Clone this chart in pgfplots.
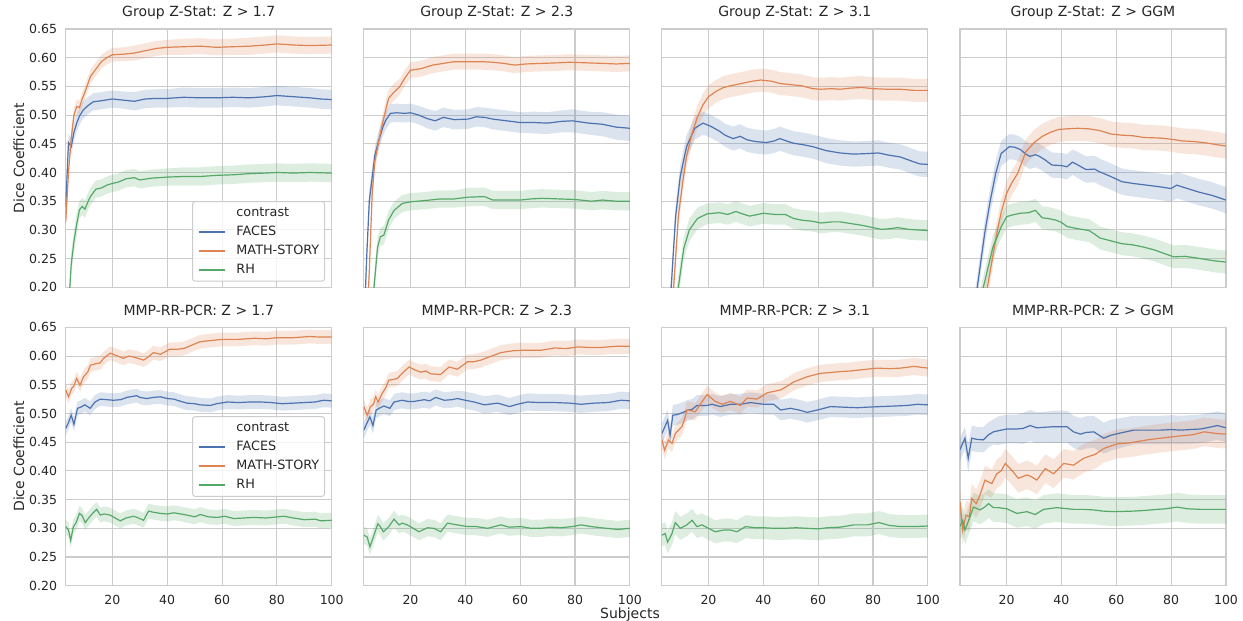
\documentclass[border=0pt]{standalone}
\usepackage{fontspec}
\setmainfont{DejaVu Sans}
\usepackage{pgfplots}
\usepackage{pgfplotstable}
\pgfplotsset{compat=1.18}
\usepgfplotslibrary{fillbetween}

\definecolor{cF}{HTML}{4C72B0}
\definecolor{cM}{HTML}{DD8452}
\definecolor{cR}{HTML}{55A868}
\definecolor{gridc}{HTML}{CCCCCC}
\definecolor{txt}{HTML}{262626}

% columns: subjects, mean dice, half width of the band
\pgfplotstableread{
x y w
3 0.34 0.02
4 0.452 0.015
5 0.445 0.015
6 0.47 0.015
7 0.486 0.015
8 0.498 0.015
9.4 0.509 0.015
11 0.516 0.015
13 0.523 0.015
16 0.525 0.015
20 0.528 0.015
24 0.526 0.015
28 0.524 0.016
32 0.528 0.016
36 0.529 0.016
40 0.529 0.016
46 0.531 0.017
52 0.530 0.017
58 0.530 0.017
64 0.531 0.017
70 0.530 0.017
76 0.532 0.017
80 0.534 0.017
86 0.532 0.017
92 0.530 0.017
96 0.528 0.017
100 0.527 0.017
}\Af
\pgfplotstableread{
x y w
3 0.314 0.01
4 0.40 0.012
5 0.46 0.012
6 0.50 0.012
7 0.515 0.012
8 0.513 0.012
9 0.528 0.012
10 0.540 0.012
12 0.567 0.012
14 0.580 0.012
16 0.593 0.012
18 0.600 0.012
20 0.605 0.012
24 0.606 0.012
28 0.608 0.013
32 0.612 0.013
36 0.616 0.013
40 0.618 0.013
46 0.619 0.014
52 0.620 0.014
58 0.618 0.014
64 0.619 0.014
70 0.620 0.015
76 0.622 0.015
80 0.624 0.015
86 0.622 0.015
92 0.621 0.015
100 0.622 0.015
}\Am
\pgfplotstableread{
x y w
3 0.10 0.02
4 0.16 0.02
5 0.24 0.02
6 0.28 0.02
7 0.31 0.02
8 0.335 0.015
9 0.341 0.015
10 0.336 0.015
11 0.348 0.015
12 0.358 0.015
14 0.371 0.015
16 0.373 0.015
18 0.378 0.015
20 0.381 0.015
22 0.383 0.015
25 0.389 0.015
28 0.391 0.015
30 0.387 0.015
34 0.390 0.015
40 0.392 0.015
46 0.393 0.016
52 0.393 0.016
58 0.395 0.016
64 0.396 0.016
70 0.398 0.016
76 0.399 0.016
80 0.400 0.016
86 0.399 0.016
92 0.400 0.016
100 0.399 0.016
}\Ar

\pgfplotstableread{
x y w
3 0.12 0.02
4 0.25 0.02
5 0.352 0.02
6 0.39 0.018
7 0.43 0.016
8.5 0.457 0.016
10 0.480 0.016
11 0.491 0.016
12.7 0.503 0.016
15 0.504 0.016
18 0.503 0.016
20 0.504 0.016
23 0.500 0.016
26 0.494 0.017
29 0.490 0.017
32 0.496 0.017
36 0.492 0.017
41 0.493 0.017
44 0.497 0.017
47 0.496 0.017
50 0.493 0.018
55 0.490 0.018
60 0.487 0.018
65 0.487 0.019
70 0.486 0.019
75 0.489 0.019
79 0.490 0.020
85 0.486 0.020
90 0.484 0.021
95 0.479 0.022
100 0.477 0.022
}\Bf
\pgfplotstableread{
x y w
3 0.05 0.015
4 0.13 0.015
5 0.23 0.015
6 0.36 0.015
7 0.42 0.015
9 0.468 0.015
10.5 0.50 0.015
12 0.529 0.015
14 0.540 0.015
16 0.549 0.014
18 0.565 0.014
20 0.578 0.014
24 0.581 0.014
28 0.587 0.014
32 0.590 0.014
36 0.593 0.014
40 0.593 0.014
46 0.593 0.014
50 0.592 0.014
54 0.590 0.014
58 0.587 0.014
62 0.589 0.014
68 0.590 0.014
74 0.591 0.014
78 0.592 0.014
84 0.591 0.014
90 0.590 0.014
95 0.589 0.014
100 0.590 0.014
}\Bm
\pgfplotstableread{
x y w
3 0.05 0.02
5 0.12 0.02
6.7 0.20 0.02
8 0.27 0.018
9 0.288 0.016
10.3 0.291 0.016
12 0.317 0.016
14 0.334 0.015
17 0.346 0.015
20 0.349 0.015
25 0.351 0.015
31 0.354 0.015
36 0.354 0.015
41 0.357 0.016
47 0.358 0.016
50 0.352 0.016
55 0.352 0.016
60 0.352 0.016
64 0.354 0.016
68 0.355 0.016
74 0.354 0.016
80 0.353 0.016
86 0.350 0.016
90 0.352 0.016
95 0.350 0.016
100 0.350 0.016
}\Br

\pgfplotstableread{
x y w
3 0.05 0.02
5 0.12 0.02
6.4 0.20 0.02
8 0.323 0.02
9.7 0.393 0.02
12 0.445 0.02
15 0.477 0.02
18 0.486 0.02
21 0.480 0.02
24 0.472 0.02
26 0.465 0.02
29 0.459 0.021
31.6 0.463 0.021
34 0.457 0.021
37 0.454 0.021
41 0.452 0.021
44 0.455 0.021
46 0.459 0.021
49 0.454 0.021
51 0.451 0.021
55 0.448 0.021
58 0.445 0.021
63 0.438 0.022
68 0.434 0.022
73 0.432 0.022
78 0.433 0.022
82 0.434 0.022
86 0.430 0.022
90 0.427 0.022
94 0.420 0.022
97 0.415 0.022
100 0.414 0.022
}\Cf
\pgfplotstableread{
x y w
3 0.03 0.02
5 0.10 0.02
7.3 0.20 0.02
9 0.323 0.02
10.5 0.38 0.02
12 0.428 0.02
14 0.468 0.02
16 0.497 0.02
18 0.518 0.02
20 0.532 0.02
23 0.542 0.02
25.5 0.548 0.02
28 0.551 0.02
32 0.555 0.02
36 0.559 0.02
39 0.561 0.02
43 0.559 0.02
46 0.555 0.02
50 0.553 0.02
54 0.551 0.02
58 0.546 0.02
61 0.545 0.02
65 0.546 0.02
68 0.545 0.02
72 0.547 0.02
76 0.548 0.02
80 0.546 0.02
85 0.545 0.02
90 0.545 0.02
95 0.543 0.02
100 0.543 0.02
}\Cm
\pgfplotstableread{
x y w
3 0.03 0.02
6 0.10 0.02
9 0.20 0.02
11 0.268 0.02
13 0.300 0.02
16 0.320 0.019
19.5 0.328 0.018
24 0.330 0.018
27 0.327 0.018
30 0.332 0.018
33 0.327 0.018
35 0.324 0.018
38 0.327 0.018
40 0.329 0.018
44 0.327 0.018
48 0.327 0.018
51 0.320 0.018
54 0.317 0.018
58 0.315 0.018
61 0.312 0.018
65 0.314 0.018
68 0.314 0.018
72 0.311 0.018
76 0.308 0.018
80 0.304 0.018
83 0.301 0.018
86 0.302 0.018
89 0.304 0.018
93 0.301 0.018
96 0.300 0.018
100 0.299 0.018
}\Cr

\pgfplotstableread{
x y w
3 0.0 0.02
6 0.10 0.02
9.3 0.20 0.02
12 0.294 0.022
14 0.35 0.022
16 0.398 0.022
18 0.433 0.022
21 0.445 0.022
23 0.444 0.022
25 0.440 0.022
27 0.432 0.022
28.5 0.428 0.022
30.5 0.431 0.022
32 0.428 0.022
34 0.422 0.022
36.5 0.413 0.022
40 0.412 0.022
42 0.410 0.022
44 0.418 0.022
46 0.413 0.023
49 0.405 0.023
52 0.406 0.023
54 0.401 0.023
58 0.393 0.023
62 0.384 0.023
66 0.381 0.023
71 0.378 0.023
76 0.375 0.023
80 0.372 0.023
82 0.378 0.023
86 0.372 0.023
90 0.366 0.023
95 0.360 0.023
100 0.352 0.023
}\Df
\pgfplotstableread{
x y w
3 0.0 0.02
8 0.10 0.02
13 0.20 0.02
16.4 0.294 0.022
18 0.33 0.022
20 0.364 0.022
22 0.383 0.022
24 0.398 0.022
27 0.436 0.022
30 0.452 0.022
33 0.463 0.022
36 0.470 0.022
39 0.475 0.022
42 0.476 0.022
46 0.477 0.022
50 0.476 0.022
54 0.473 0.022
58 0.467 0.022
62 0.465 0.022
66 0.464 0.022
70 0.461 0.022
76 0.460 0.022
80 0.458 0.022
84 0.455 0.022
88 0.454 0.022
92 0.452 0.022
96 0.449 0.022
100 0.446 0.022
}\Dm
\pgfplotstableread{
x y w
3 0.0 0.02
8 0.12 0.02
11.5 0.20 0.02
15 0.270 0.02
18 0.305 0.02
20 0.323 0.02
22 0.326 0.02
25 0.329 0.02
28 0.330 0.02
30.5 0.334 0.02
33 0.321 0.02
35 0.320 0.02
38 0.317 0.02
40 0.313 0.02
42 0.306 0.02
46 0.302 0.02
50 0.299 0.02
52 0.293 0.02
54 0.286 0.02
58 0.281 0.02
62 0.276 0.02
66 0.274 0.02
70 0.270 0.02
74 0.265 0.02
78 0.258 0.02
81 0.253 0.02
85 0.254 0.02
88 0.252 0.02
92 0.249 0.02
96 0.246 0.02
100 0.244 0.02
}\Dr

\pgfplotstableread{
x y w
3 0.474 0.012
4 0.484 0.012
5 0.497 0.012
6 0.481 0.012
7.3 0.509 0.012
8.5 0.511 0.012
10 0.515 0.012
11.9 0.509 0.012
13.7 0.520 0.012
15.6 0.525 0.012
18 0.524 0.012
20.4 0.523 0.012
23 0.524 0.012
25.3 0.528 0.012
28.9 0.531 0.012
30 0.528 0.012
32.6 0.526 0.012
35 0.528 0.012
37.5 0.529 0.012
40 0.526 0.012
42.4 0.525 0.012
45 0.521 0.012
47.2 0.518 0.012
50 0.517 0.012
52 0.515 0.012
55.8 0.514 0.012
58 0.517 0.012
62 0.520 0.012
66 0.519 0.012
70 0.520 0.012
74 0.520 0.012
78 0.519 0.012
82 0.517 0.012
86 0.518 0.012
90 0.519 0.012
94 0.520 0.012
97 0.523 0.012
100 0.522 0.012
}\Ef
\pgfplotstableread{
x y w
3 0.541 0.012
4 0.529 0.012
5.2 0.544 0.012
6 0.548 0.012
7 0.561 0.012
8.2 0.549 0.012
9.5 0.564 0.012
11 0.572 0.012
12 0.584 0.012
14.3 0.587 0.012
15.5 0.588 0.012
16.8 0.596 0.012
19.2 0.605 0.012
22 0.600 0.012
24 0.596 0.012
26 0.600 0.012
28 0.598 0.012
31.4 0.593 0.012
33 0.598 0.012
35 0.606 0.012
37.5 0.603 0.012
41 0.612 0.012
44 0.612 0.012
46 0.613 0.012
49 0.619 0.012
52 0.625 0.012
56 0.627 0.012
60 0.629 0.012
66 0.629 0.012
72 0.631 0.012
76 0.630 0.012
80 0.632 0.012
86 0.632 0.012
92 0.634 0.012
96 0.633 0.012
100 0.633 0.012
}\Em
\pgfplotstableread{
x y w
3 0.303 0.013
4 0.297 0.013
4.8 0.279 0.013
5.8 0.303 0.013
6.8 0.310 0.013
8 0.326 0.013
9 0.322 0.013
10.1 0.310 0.013
11.7 0.320 0.013
13 0.327 0.013
14.3 0.333 0.013
15.6 0.323 0.013
17 0.325 0.013
19.2 0.323 0.013
21 0.318 0.013
22.9 0.313 0.013
25 0.318 0.013
27.7 0.321 0.013
29 0.319 0.013
31.4 0.314 0.013
33.2 0.330 0.013
35 0.328 0.013
37.5 0.326 0.013
40 0.325 0.013
42.4 0.327 0.013
45 0.325 0.013
47.2 0.323 0.013
50 0.320 0.013
52.1 0.324 0.013
55 0.320 0.013
58.2 0.319 0.013
61 0.321 0.013
64.3 0.317 0.013
68 0.318 0.013
71.6 0.319 0.013
76 0.318 0.013
82.6 0.321 0.013
86 0.318 0.013
90 0.315 0.013
94 0.316 0.013
96 0.313 0.013
100 0.314 0.013
}\Er

\pgfplotstableread{
x y w
3 0.471 0.014
4 0.482 0.014
5.2 0.494 0.014
6.3 0.479 0.014
7.5 0.506 0.014
9 0.510 0.014
10.3 0.513 0.014
12.5 0.509 0.014
14 0.520 0.014
17 0.523 0.014
19 0.521 0.014
21.3 0.521 0.014
25 0.524 0.014
27 0.522 0.014
29.2 0.528 0.014
32.3 0.523 0.014
35 0.524 0.014
37.1 0.526 0.014
40 0.523 0.015
43.2 0.520 0.015
46.9 0.515 0.015
51.8 0.518 0.015
54 0.515 0.015
56.1 0.512 0.015
59 0.516 0.015
62.7 0.520 0.015
67 0.519 0.015
72.5 0.519 0.015
78 0.518 0.015
82.2 0.516 0.015
87 0.518 0.015
92 0.519 0.015
96.8 0.523 0.015
100 0.522 0.015
}\Ff
\pgfplotstableread{
x y w
3 0.512 0.013
4.2 0.497 0.013
5.4 0.512 0.013
6.5 0.516 0.013
7.3 0.529 0.013
8.2 0.520 0.013
9.7 0.535 0.013
11 0.545 0.013
12.1 0.558 0.013
13.5 0.559 0.013
15.2 0.561 0.013
17 0.570 0.013
19.5 0.581 0.013
21.5 0.576 0.013
23.7 0.572 0.013
25.5 0.574 0.013
27.4 0.569 0.013
31 0.568 0.013
34.1 0.581 0.013
37.1 0.577 0.013
40.8 0.590 0.013
43 0.590 0.013
45.7 0.593 0.013
49 0.599 0.013
53 0.606 0.013
57 0.609 0.013
60.3 0.610 0.013
64 0.610 0.013
67.6 0.610 0.013
72.5 0.614 0.013
77 0.613 0.013
81 0.616 0.013
85 0.615 0.013
89.5 0.615 0.013
95 0.617 0.013
100 0.617 0.013
}\Fm
\pgfplotstableread{
x y w
3 0.288 0.015
4.2 0.285 0.015
5.2 0.268 0.015
6.7 0.288 0.015
8.1 0.308 0.015
9 0.303 0.015
10.1 0.294 0.015
12.1 0.303 0.015
14 0.316 0.015
15.8 0.306 0.015
17 0.309 0.015
18.8 0.306 0.015
21 0.300 0.015
23.1 0.294 0.015
26.2 0.301 0.015
28.5 0.300 0.015
31 0.294 0.015
33.5 0.309 0.015
37 0.306 0.015
40.8 0.303 0.015
44 0.303 0.015
48.1 0.300 0.015
53 0.306 0.015
56 0.302 0.015
60.3 0.303 0.015
64 0.300 0.015
67.6 0.300 0.015
71 0.302 0.015
74.9 0.301 0.015
79 0.303 0.015
82.2 0.306 0.015
86 0.303 0.015
89.5 0.301 0.015
95.6 0.298 0.015
100 0.300 0.015
}\Fr

\pgfplotstableread{
x y w
3 0.465 0.018
4 0.476 0.018
5.1 0.488 0.018
6 0.462 0.018
7 0.497 0.018
8.5 0.498 0.018
9.7 0.500 0.018
12.8 0.506 0.018
14 0.507 0.018
15.8 0.514 0.018
19.5 0.514 0.018
21.3 0.516 0.018
24.3 0.512 0.018
28 0.516 0.018
31.6 0.516 0.018
35.3 0.519 0.018
40.2 0.516 0.018
43.8 0.516 0.018
46.3 0.506 0.018
49.9 0.509 0.018
53 0.506 0.018
56 0.502 0.018
59.7 0.506 0.018
64.5 0.512 0.018
69 0.511 0.018
74.3 0.510 0.018
78 0.511 0.018
82.8 0.512 0.018
88 0.513 0.018
92.6 0.514 0.018
96.2 0.516 0.018
100 0.515 0.018
}\Gf
\pgfplotstableread{
x y w
3 0.454 0.015
4 0.436 0.015
5.4 0.454 0.015
6.7 0.448 0.015
7.9 0.465 0.015
9.1 0.471 0.015
10.3 0.477 0.015
11.3 0.490 0.015
12.1 0.506 0.015
13.5 0.505 0.015
15.2 0.503 0.015
17 0.516 0.015
19.5 0.533 0.015
21 0.527 0.015
22.5 0.521 0.015
25 0.516 0.015
28 0.521 0.015
31.6 0.514 0.015
34.1 0.527 0.015
37.7 0.525 0.015
41.4 0.536 0.015
46.3 0.541 0.015
48.5 0.547 0.015
51.1 0.555 0.015
56 0.564 0.015
60.9 0.570 0.015
64 0.571 0.015
68.2 0.573 0.015
72 0.574 0.015
75.5 0.576 0.015
81.6 0.579 0.015
86 0.578 0.015
90.1 0.579 0.015
95 0.582 0.015
100 0.579 0.015
}\Gm
\pgfplotstableread{
x y w
3 0.288 0.02
4.2 0.291 0.02
5.1 0.276 0.02
6.7 0.291 0.02
7.9 0.310 0.02
9.7 0.300 0.02
12.1 0.306 0.02
14 0.314 0.02
15.8 0.303 0.02
17.6 0.306 0.02
20 0.300 0.02
22.5 0.294 0.02
25.5 0.297 0.02
28 0.297 0.02
30.4 0.294 0.02
33.5 0.303 0.02
37 0.301 0.02
40.2 0.301 0.02
44 0.300 0.02
47.5 0.300 0.02
52 0.301 0.02
56 0.300 0.02
60 0.299 0.02
63.3 0.301 0.02
68 0.302 0.02
73.1 0.306 0.02
78 0.306 0.02
82.2 0.310 0.02
86 0.305 0.02
90.1 0.303 0.02
95 0.303 0.02
100 0.304 0.02
}\Gr

\pgfplotstableread{
x y w
3 0.437 0.02
4.8 0.457 0.02
6 0.422 0.025
7.3 0.457 0.022
9 0.455 0.022
11.5 0.454 0.022
13.4 0.463 0.022
15.2 0.468 0.022
17 0.470 0.025
20.1 0.473 0.025
23.7 0.473 0.025
26 0.474 0.027
28.6 0.479 0.027
31 0.475 0.027
34 0.476 0.027
37.1 0.477 0.028
42 0.477 0.028
44.4 0.468 0.028
46.9 0.464 0.028
49 0.467 0.028
51.8 0.468 0.028
55.4 0.457 0.027
58 0.462 0.027
61.5 0.466 0.026
66.4 0.471 0.025
71 0.471 0.025
76.1 0.471 0.025
80 0.472 0.025
83.4 0.471 0.025
87 0.472 0.025
90.7 0.473 0.025
94 0.476 0.025
96.8 0.479 0.025
100 0.475 0.025
}\Hf
\pgfplotstableread{
x y w
3 0.346 0.025
4 0.297 0.025
5.2 0.323 0.025
6.4 0.320 0.025
7.3 0.352 0.025
8.9 0.343 0.025
10.3 0.358 0.025
12.1 0.384 0.025
14.6 0.378 0.025
16.4 0.395 0.025
18 0.400 0.025
19.5 0.413 0.025
21.9 0.401 0.025
24.3 0.387 0.025
27.4 0.393 0.025
29 0.390 0.025
31 0.384 0.025
34.1 0.404 0.025
37.1 0.395 0.025
40.8 0.413 0.025
44.4 0.410 0.025
48.1 0.422 0.025
52.4 0.429 0.025
55.4 0.439 0.025
60.3 0.447 0.025
65.2 0.449 0.025
71.3 0.454 0.025
76.1 0.457 0.025
80 0.459 0.025
83.4 0.461 0.025
88 0.463 0.025
92 0.468 0.025
96.8 0.465 0.025
100 0.464 0.025
}\Hm
\pgfplotstableread{
x y w
3 0.303 0.025
4 0.314 0.025
4.8 0.297 0.025
6.4 0.317 0.025
7.9 0.337 0.025
10.3 0.332 0.025
12 0.337 0.025
13.4 0.343 0.025
15.2 0.336 0.025
17 0.336 0.025
20.1 0.334 0.025
23.7 0.326 0.025
27.4 0.329 0.025
30.4 0.324 0.025
33.5 0.333 0.025
38.3 0.336 0.025
44.4 0.333 0.025
48 0.333 0.025
51.8 0.332 0.025
55 0.330 0.025
59.1 0.329 0.025
66.4 0.330 0.025
70 0.331 0.025
74.9 0.333 0.025
78 0.334 0.025
82.2 0.337 0.025
86 0.334 0.025
90.7 0.333 0.025
95 0.333 0.025
100 0.333 0.025
}\Hr

\newcommand{\band}[3]{%
  \addplot[draw=none, name path=u#3, forget plot] table[x=x, y expr=\thisrow{y}+\thisrow{w}] {#2};
  \addplot[draw=none, name path=l#3, forget plot] table[x=x, y expr=\thisrow{y}-\thisrow{w}] {#2};
  \addplot[fill=#1, fill opacity=0.2, draw=none, forget plot] fill between[of=u#3 and l#3];
}
\newcommand{\trio}[3]{%
  \band{cF}{#1}{a}\band{cM}{#2}{b}\band{cR}{#3}{c}
  \addplot[cF, line width=0.9pt] table[x=x, y=y] {#1};
  \addplot[cM, line width=0.9pt] table[x=x, y=y] {#2};
  \addplot[cR, line width=0.9pt] table[x=x, y=y] {#3};
}

\pgfplotsset{panel/.style={scale only axis, width=199.5pt, height=193.8pt,
  anchor=south west, xmin=3, xmax=100, ymin=0.2, ymax=0.65,
  xtick={20,40,60,80,100},
  ytick={0.2,0.25,0.3,0.35,0.4,0.45,0.5,0.55,0.6,0.65},
  yticklabel style={/pgf/number format/fixed, /pgf/number format/fixed zerofill,
    /pgf/number format/precision=2},
  /pgf/number format/assume math mode=true,
  major tick length=0pt, grid=major,
  major grid style={gridc, line width=0.8pt},
  axis line style={gridc, line width=0.9pt},
  tick label style={font=\fontsize{9.4}{11}\selectfont, text=txt, inner sep=0pt},
  x tick label style={yshift=-7pt},
  y tick label style={xshift=-6.3pt},
  title style={font=\fontsize{10.5}{12.6}\selectfont, text=txt, inner sep=0pt,
    at={(0.5,1)}, anchor=base, yshift=3pt},
  legend style={draw=gridc, line width=0.75pt, rounded corners=2pt, fill=white,
    fill opacity=0.8, text opacity=1, text=txt, inner sep=4pt,
    font=\fontsize{9.6}{11}\selectfont,
    nodes={inner sep=0pt, text height=7pt, text depth=2pt},
    row sep=5.25pt, column sep=8pt},
  legend cell align=left,
  legend image code/.code={\draw[#1, line width=0.9pt] (0pt,0pt) -- (20pt,0pt);}
}}

\begin{document}
\begin{tikzpicture}

\begin{axis}[panel, at={(49.3pt,-215.5pt)}, title={Group Z-Stat: Z > 1.7},
  xticklabels={},
  legend entries={contrast,FACES,MATH-STORY,RH},
  legend style={at={(1,0)}, anchor=south east, xshift=-5pt, yshift=4.2pt}]
\addlegendimage{empty legend}
\trio{\Af}{\Am}{\Ar}
\end{axis}
\begin{axis}[panel, at={(272.9pt,-215.5pt)}, title={Group Z-Stat: Z > 2.3},
  xticklabels={}, yticklabels={}]
\trio{\Bf}{\Bm}{\Br}
\end{axis}
\begin{axis}[panel, at={(496.4pt,-215.5pt)}, title={Group Z-Stat: Z > 3.1},
  xticklabels={}, yticklabels={}]
\trio{\Cf}{\Cm}{\Cr}
\end{axis}
\begin{axis}[panel, at={(720pt,-215.5pt)}, title={Group Z-Stat: Z > GGM},
  xticklabels={}, yticklabels={}]
\trio{\Df}{\Dm}{\Dr}
\end{axis}

\begin{axis}[panel, at={(49.3pt,-439.3pt)}, title={MMP-RR-PCR: Z > 1.7},
  legend entries={contrast,FACES,MATH-STORY,RH},
  legend style={at={(1,0.5)}, anchor=east, xshift=-5pt}]
\addlegendimage{empty legend}
\trio{\Ef}{\Em}{\Er}
\end{axis}
\begin{axis}[panel, at={(272.9pt,-439.3pt)}, title={MMP-RR-PCR: Z > 2.3},
  yticklabels={}]
\trio{\Ff}{\Fm}{\Fr}
\end{axis}
\begin{axis}[panel, at={(496.4pt,-439.3pt)}, title={MMP-RR-PCR: Z > 3.1},
  yticklabels={}]
\trio{\Gf}{\Gm}{\Gr}
\end{axis}
\begin{axis}[panel, at={(720pt,-439.3pt)}, title={MMP-RR-PCR: Z > GGM},
  yticklabels={}]
\trio{\Hf}{\Hm}{\Hr}
\end{axis}

\node[rotate=90, anchor=base, text=txt, font=\fontsize{10.5}{12.6}\selectfont]
  at (18pt,-118.6pt) {Dice Coefficient};
\node[rotate=90, anchor=base, text=txt, font=\fontsize{10.5}{12.6}\selectfont]
  at (18pt,-342.4pt) {Dice Coefficient};
\node[anchor=base, text=txt, font=\fontsize{10.5}{12.6}\selectfont]
  at (472.5pt,-463.9pt) {Subjects};

\pgfresetboundingbox
\useasboundingbox (0,0) rectangle (932.25pt,-465.75pt);
\end{tikzpicture}
\end{document}
